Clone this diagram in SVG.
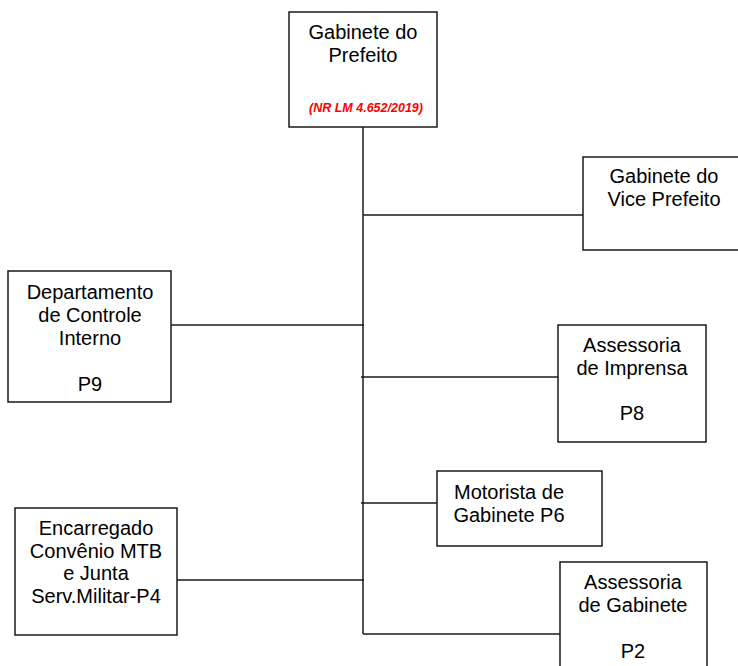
<svg xmlns="http://www.w3.org/2000/svg" width="738" height="666" viewBox="0 0 738 666">
<style>
.box{fill:#fff;stroke:#1a1a1a;stroke-width:1.5}
.t{font-family:"Liberation Sans",Arial,sans-serif;font-size:20px;fill:#000;text-anchor:middle}
.red{font-family:"Liberation Sans",Arial,sans-serif;font-size:12.5px;font-weight:bold;font-style:italic;fill:#ff0000;text-anchor:middle}
.c{stroke:#1a1a1a;stroke-width:1.5;fill:none}
</style>
<rect width="738" height="666" fill="#fff"/>
<g id="connectors">
<line class="c" x1="363" y1="127" x2="363" y2="634"/>
<line class="c" x1="363" y1="215" x2="583" y2="215"/>
<line class="c" x1="171" y1="325" x2="364" y2="325"/>
<line class="c" x1="361" y1="377" x2="558" y2="377"/>
<line class="c" x1="361" y1="503" x2="437" y2="503"/>
<line class="c" x1="177" y1="580" x2="364" y2="580"/>
<line class="c" x1="363" y1="634" x2="560" y2="634"/>
</g>
<g id="gabinete-prefeito">
<rect class="box" x="289" y="12" width="148" height="115"/>
<text class="t" x="363" y="39">Gabinete do</text>
<text class="t" x="363" y="62">Prefeito</text>
<text class="red" x="366" y="112">(NR LM 4.652/2019)</text>
</g>
<g id="gabinete-vice">
<rect class="box" x="583" y="157" width="165" height="93"/>
<text class="t" x="664" y="183">Gabinete do</text>
<text class="t" x="664" y="206">Vice Prefeito</text>
</g>
<g id="controle-interno">
<rect class="box" x="8" y="271" width="163" height="131"/>
<text class="t" x="90" y="299">Departamento</text>
<text class="t" x="90" y="322">de Controle</text>
<text class="t" x="90" y="345">Interno</text>
<text class="t" x="90" y="391">P9</text>
</g>
<g id="assessoria-imprensa">
<rect class="box" x="558" y="325" width="148" height="117"/>
<text class="t" x="632" y="352">Assessoria</text>
<text class="t" x="632" y="375">de Imprensa</text>
<text class="t" x="632" y="420">P8</text>
</g>
<g id="motorista">
<rect class="box" x="437" y="471" width="165" height="75"/>
<text class="t" x="509" y="499">Motorista de</text>
<text class="t" x="509" y="522">Gabinete P6</text>
</g>
<g id="encarregado">
<rect class="box" x="15" y="508" width="162" height="127"/>
<text class="t" x="96" y="535">Encarregado</text>
<text class="t" x="96" y="558">Convênio MTB</text>
<text class="t" x="96" y="580">e Junta</text>
<text class="t" x="96" y="603">Serv.Militar-P4</text>
</g>
<g id="assessoria-gabinete">
<rect class="box" x="560" y="562" width="147" height="120"/>
<text class="t" x="633" y="589">Assessoria</text>
<text class="t" x="633" y="612">de Gabinete</text>
<text class="t" x="633" y="658">P2</text>
</g>
</svg>
